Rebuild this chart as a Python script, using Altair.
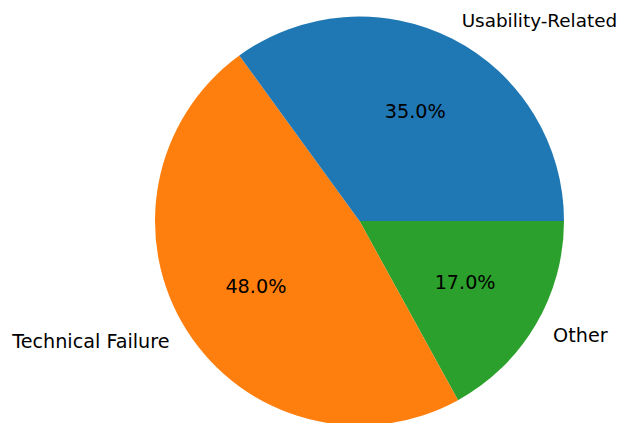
import altair as alt
import pandas as pd

categories = ["Other", "Technical Failure", "Usability-Related"]
values = [17.0, 48.0, 35.0]
colors = ["#2ca02c", "#ff7f0e", "#1f77b4"]
order = [0, 1, 2]
label_align = ["left", "right", "left"]

df = pd.DataFrame({
    "category": categories,
    "value": values,
    "order": order,
    "align": label_align,
})
df["pct"] = df["value"].map(lambda v: f"{v:.1f}%")

CX, CY, R = 351.5, 213, 204.5
FONT = "DejaVu Sans"
FS = 19.2

theta = alt.Theta("value:Q", stack=True, scale=alt.Scale(range=[1.5707963, 7.8539816]))
base = alt.Chart(df).encode(
    theta=theta,
    order=alt.Order("order:Q"),
    x=alt.value(CX),
    y=alt.value(CY),
)

arcs = base.mark_arc(outerRadius=R).encode(
    color=alt.Color("category:N", scale=alt.Scale(domain=categories, range=colors), legend=None)
)

pct = base.mark_text(radius=0.6 * R, font=FONT, fontSize=FS, color="black",
                     baseline="middle", align="center").encode(text="pct:N")

lab_left = base.mark_text(radius=1.1 * R, font=FONT, color="black",
                          baseline="middle", align="left").encode(
    text="category:N",
    size=alt.condition("datum.category == 'Usability-Related'", alt.value(18.4), alt.value(FS)),
    opacity=alt.condition("datum.align == 'left'", alt.value(1), alt.value(0)),
)
lab_right = base.mark_text(radius=1.1 * R, font=FONT, fontSize=FS, color="black",
                           baseline="middle", align="right").encode(
    text="category:N",
    opacity=alt.condition("datum.align == 'right'", alt.value(1), alt.value(0)),
)

chart = alt.layer(arcs, pct, lab_left, lab_right).properties(
    width=609, height=415, padding=0, autosize=alt.AutoSizeParams(type="none")
).configure_view(stroke=None)

chart.save("out.html", embed_options={"renderer": "svg", "actions": False})
